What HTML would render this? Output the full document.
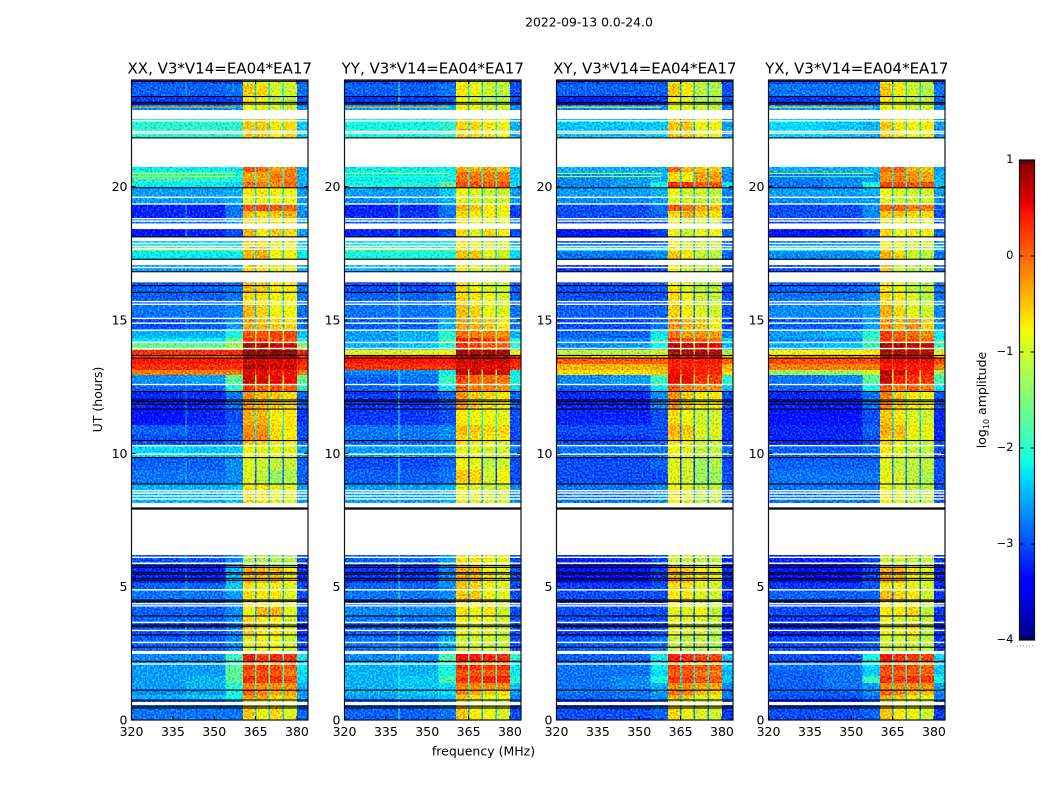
<!DOCTYPE html>
<html lang="en">
<head>
<meta charset="utf-8">
<title>2022-09-13 0.0-24.0</title>
<style>
html,body{margin:0;padding:0;background:#fff;width:1050px;height:800px;overflow:hidden}
svg{display:block}
text{font-family:"DejaVu Sans","Liberation Sans",sans-serif;fill:#000}
</style>
</head>
<body>
<svg id="figure" xmlns="http://www.w3.org/2000/svg" width="1050" height="800" viewBox="0 0 1050 800">
<defs>
<filter id="grain0" x="0" y="0" width="1" height="1" color-interpolation-filters="sRGB"><feTurbulence type="fractalNoise" baseFrequency="0.55" numOctaves="1" seed="3" result="n"/><feColorMatrix in="n" type="matrix" values="0.3 0 0 0 0.35  1.2 0 0 0 -0.1  0.2 0 0 0 0.4  0 0 0 0 1" result="m"/><feComposite in="SourceGraphic" in2="m" operator="arithmetic" k1="0" k2="1" k3="1" k4="-0.5" result="c"/><feComposite in="c" in2="SourceAlpha" operator="in"/></filter>
<filter id="grain1" x="0" y="0" width="1" height="1" color-interpolation-filters="sRGB"><feTurbulence type="fractalNoise" baseFrequency="0.55" numOctaves="1" seed="11" result="n"/><feColorMatrix in="n" type="matrix" values="0.3 0 0 0 0.35  1.2 0 0 0 -0.1  0.2 0 0 0 0.4  0 0 0 0 1" result="m"/><feComposite in="SourceGraphic" in2="m" operator="arithmetic" k1="0" k2="1" k3="1" k4="-0.5" result="c"/><feComposite in="c" in2="SourceAlpha" operator="in"/></filter>
<filter id="grain2" x="0" y="0" width="1" height="1" color-interpolation-filters="sRGB"><feTurbulence type="fractalNoise" baseFrequency="0.55" numOctaves="1" seed="23" result="n"/><feColorMatrix in="n" type="matrix" values="0.3 0 0 0 0.35  1.2 0 0 0 -0.1  0.2 0 0 0 0.4  0 0 0 0 1" result="m"/><feComposite in="SourceGraphic" in2="m" operator="arithmetic" k1="0" k2="1" k3="1" k4="-0.5" result="c"/><feComposite in="c" in2="SourceAlpha" operator="in"/></filter>
<filter id="grain3" x="0" y="0" width="1" height="1" color-interpolation-filters="sRGB"><feTurbulence type="fractalNoise" baseFrequency="0.55" numOctaves="1" seed="37" result="n"/><feColorMatrix in="n" type="matrix" values="0.3 0 0 0 0.35  1.2 0 0 0 -0.1  0.2 0 0 0 0.4  0 0 0 0 1" result="m"/><feComposite in="SourceGraphic" in2="m" operator="arithmetic" k1="0" k2="1" k3="1" k4="-0.5" result="c"/><feComposite in="c" in2="SourceAlpha" operator="in"/></filter>
</defs>
<text x="589" y="26.5" font-size="12.4" text-anchor="middle">2022-09-13 0.0-24.0</text>
<text x="483.5" y="755.5" font-size="12.5" text-anchor="middle">frequency (MHz)</text>
<text transform="translate(102,399.5) rotate(-90)" font-size="12.5" text-anchor="middle">UT (hours)</text>
<text transform="translate(986,400) rotate(-90)" font-size="12.5" text-anchor="middle">log<tspan font-size="8" dy="3">10</tspan><tspan dy="-3"> amplitude</tspan></text>
</svg>
<script>
const panelTitles = ["XX, V3*V14=EA04*EA17","YY, V3*V14=EA04*EA17","XY, V3*V14=EA04*EA17","YX, V3*V14=EA04*EA17"];
const xTicks = [320,335,350,365,380];
const yTicks = [0,5,10,15,20];
const cbarTicks = [1,0,-1,-2,-3,-4];
const freqEdges = [320,340,354,360.4,365,370,375,380,384];
const gapFreqs = [365,370,375];
const rowEdgesUT = [24.00,23.85,23.40,23.06,22.88,22.54,21.83,20.74,20.55,20.18,
19.95,19.61,19.35,19.09,18.83,18.41,18.11,17.78,17.59,17.25,
16.80,16.43,16.01,15.56,15.04,14.63,14.33,14.14,13.88,13.69,
13.58,13.35,13.13,12.94,12.60,12.30,11.66,11.06,10.69,10.46,
10.28,9.83,9.38,8.85,8.10,7.95,6.19,5.78,5.14,4.88,
4.50,4.24,3.90,3.60,3.11,2.59,2.48,2.21,2.06,1.88,
1.65,1.39,1.13,0.94,0.75,0.56,0.00];
const whiteThinUT = [22.47,22.07,22.00,19.60,19.35,18.80,18.71,17.87,17.76,17.66,16.97,16.44,15.69,15.59,15.06,14.88,14.62,14.16,13.93,12.58,10.29,9.97,8.60,8.51,8.40,8.29,6.10,5.88,4.88,4.36,4.28,3.66,3.36,2.91,2.10];
const whiteStartUT = [18.62,18.09,17.25,8.14,2.59,0.675];
const whiteEndUT = [18.41,17.96,17.06,7.97,2.50,0.56];
const blackFlagUT = [23.95,23.38,23.16,23.10,21.83,19.96,18.12,17.28,16.81,16.29,16.04,13.67,13.57,12.32,12.00,11.94,11.84,11.66,10.48,9.84,8.85,7.93,5.79,5.72,5.53,5.47,5.31,5.24,4.50,4.45,3.90,3.56,3.50,3.19,2.73,2.20,1.12,0.75,0.52,0.45];
const hotLineUT = [22.98,20.50,20.38,17.68];
const hotLineXX = [-0.3,-1.0,-1.2,-1.0];
const hotLineYY = [-0.4,-1.1,-2.0,-1.1];
const hotLineXY = [-0.7,-1.1,-1.3,-1.4];
const hotLineYX = [-0.6,-0.9,-2.0,-1.1];
const spurPanel = [1,0];
const spurFreq = [339.7,339.7];
const spurLevel = [-1.9,-2.5];
const xxLevels = [
[-3,-3,-3,-1,-.9,-1,-1,-3,-2],
[-2.9,-2.9,-2.8,-.5,-.6,-1,-1,-2.8,-2.2],
[-3.1,-3.1,-3,-.7,-.8,-1.1,-1.1,-3,-2.3],
[-2.7,-2.7,-2.6,-.8,-.8,-1,-1,-2.7,-2.3],
null,
[-2,-2,-2,-.5,-.5,-.7,-.6,-2.4,-2.1],
null,
[-2.2,-2.2,-2.2,.1,0,-.3,-.2,-2.6,-2],
[-1.9,-2,-2.1,-.3,-.3,-.1,-.1,-2.5,-1.9],
[-2.2,-2.2,-2.3,0,-.1,-.2,0,-2.5,-2.1],
[-2.6,-2.6,-2.5,-.7,-.7,-.8,-.8,-2.6,-2.3],
[-2.6,-2.6,-2.5,-.8,-.8,-.8,-.8,-2.6,-2.3],
[-3.2,-3.2,-2.8,.1,.2,.1,0,-2.6,-2.3],
[-3.2,-3.2,-2.8,-.5,-.6,-.5,-.4,-2.7,-2.3],
[-2.8,-2.8,-2.6,-.6,-.7,-.7,-.7,-2.6,-2.3],
[-3.3,-3.2,-3,-.4,-.7,-.5,-.6,-2.6,-2.3],
[-2.3,-2.3,-2.3,-.6,-.7,-.9,-.9,-2.4,-2.3],
[-1.6,-1.7,-1.7,-.4,-.4,-.7,-.8,-2.2,-2.2],
[-2.2,-2.2,-2.2,-.4,-.4,-.8,-.8,-2.2,-2.3],
[-2.6,-2.6,-2.5,-.5,-.7,-.8,-.8,-2.5,-2.3],
null,
[-2.9,-2.9,-2.8,-.4,-.5,-.7,-.7,-2.8,-2.4],
[-2.9,-2.9,-2.8,-.6,-.7,-.8,-.8,-2.8,-2.5],
[-2.8,-2.8,-2.7,-.4,-.6,-.8,-.8,-2.8,-2.4],
[-3,-2.9,-2.6,-.3,-.4,-.5,-.6,-2.8,-2.3],
[-2.5,-2.5,-2.1,.1,.1,.2,.2,-2.4,-1.3],
[-2.2,-2.2,-1.6,.3,.3,.2,.1,-2,-1],
[-1.6,-1.6,-1.3,.85,.8,.7,.65,-1.4,-.6],
[.3,.3,.35,.95,.95,.95,.95,.4,.6],
[.1,.1,.15,.85,.8,.75,.75,.1,.5],
[.45,.45,.4,.7,.65,.6,.6,.4,.5],
[.3,.3,.3,.8,.75,.7,.7,.3,.5],
[-.1,-.1,-.1,.6,.55,.5,.5,-.1,.2],
[-2.7,-2.6,-1.7,.7,.65,.6,.5,-1.6,-.8],
[-2.9,-2.9,-2,.25,.1,.15,.1,-2,-1.1],
[-3.2,-3.2,-2.8,-.2,-.4,-.5,-.6,-2.9,-1.7],
[-3.3,-3.2,-3,-.35,-.4,-.7,-.7,-3.1,-2],
[-2.9,-3,-2.9,-.2,-.2,-.6,-.7,-3,-2.1],
[-3,-3,-2.9,-.1,-.15,-.6,-.7,-3,-2.2],
[-3,-3,-2.8,-.5,-.6,-.8,-.8,-2.8,-2.4],
[-2.3,-2.4,-2.4,-.8,-.85,-.9,-.9,-2.6,-2.4],
[-2.9,-2.9,-2.7,-.9,-1,-1.1,-1.05,-2.9,-2.8],
[-2.8,-2.8,-2.7,-.95,-1.1,-1.3,-1.2,-2.9,-2.9],
[-2.5,-2.5,-2.4,-.6,-.7,-.9,-.9,-2.6,-2.4],
[-2.8,-2.8,-2.8,-.6,-.7,-.9,-.9,-2.8,-2.5],
null,
[-3,-3,-2.7,-1.2,-1.2,-1.2,-1.2,-3,-2.7],
[-3.2,-3.2,-2.5,-.35,-.4,-.45,-.7,-3.1,-2.5],
[-2.9,-2.9,-2.4,-.7,-.8,-.8,-.9,-3,-2.5],
[-2.8,-2.8,-2.6,-.6,-.7,-.7,-.9,-3,-2.5],
[-3,-3,-2.8,-.5,-.7,-.7,-.9,-3,-2.5],
[-2.9,-2.9,-2.7,-.8,-.4,-.4,-.9,-3,-2.5],
[-2.9,-2.9,-2.7,-.6,-.7,-.7,-1,-3,-2.5],
[-3,-3,-2.8,-.5,-.7,-.7,-.9,-3.2,-2.6],
[-2.9,-2.9,-2.7,-.9,-.8,-.8,-1,-3,-2.6],
null,
[-2.7,-2.7,-1.9,.45,.25,.3,.3,-2.2,-1.9],
[-2.7,-2.7,-2,-.1,-.2,-.2,-.1,-2.4,-1.9],
[-2.6,-2.6,-1.7,.25,.25,.2,.1,-2.2,-1.7],
[-2.6,-2.6,-1.7,.1,.15,.1,-.1,-2.3,-1.8],
[-2.6,-2.5,-1.7,.3,.25,.3,.15,-2.3,-1.7],
[-2.6,-2.5,-2,-.1,-.2,-.2,-.2,-2.5,-1.9],
[-2.7,-2.6,-2.1,.1,-.1,-.3,-.3,-2.6,-2],
[-2.5,-2.4,-2.1,-.3,-.3,-.6,-.5,-2.6,-2],
[-3,-3,-2.8,-.6,-.7,-.8,-.8,-2.8,-2.3],
[-2.8,-2.8,-2.8,-.5,-.8,-.6,-.9,-2.9,-2.4]
];
const yyLevels = [
[-3,-3,-3,-.8,-1,-1,-1,-3,-2.5],
[-2.9,-2.9,-2.8,-.7,-.8,-1,-1.1,-3,-2.3],
[-3.1,-3.1,-3,-.8,-.9,-1.2,-1.2,-3,-2.3],
[-2.6,-2.6,-2.5,-.8,-.8,-1,-1,-2.7,-2.4],
null,
[-2.1,-2.1,-2,-.6,-.6,-.7,-.8,-2.5,-2.2],
null,
[-2.2,-2.2,-2.2,-.3,-.4,-.3,-.5,-2.4,-2.1],
[-2.2,-2.2,-2.1,-.05,-.05,-.1,-.1,-2.4,-2],
[-2.1,-2.1,-1.7,.15,.15,.1,.1,-2.3,-1.9],
[-2.6,-2.6,-2.4,-.8,-.9,-1,-1,-2.6,-2.4],
[-2.7,-2.6,-2.5,-.9,-1,-1,-1,-2.6,-2.4],
[-3.2,-3.2,-2.8,-.4,-.5,-.7,-.8,-3,-2.5],
[-3.2,-3.1,-2.8,-.6,-.7,-.7,-.8,-3.1,-2.5],
[-2.9,-2.9,-2.7,-.7,-.9,-.8,-.9,-2.8,-2.5],
[-3.2,-3.2,-3,-.6,-.9,-.6,-.8,-3,-2.5],
[-2.2,-2.2,-2.2,-.7,-.9,-1,-1,-2.5,-2.4],
[-1.7,-1.8,-1.8,-.7,-.8,-.9,-1,-2.2,-2.3],
[-2.1,-2.1,-2.1,-.5,-.5,-.9,-1,-2.3,-2.4],
[-2.5,-2.5,-2.4,-.7,-.9,-1,-1,-2.5,-2.4],
null,
[-3,-3,-2.9,-.6,-.8,-.9,-1,-2.9,-2.5],
[-2.9,-2.9,-2.8,-.6,-.7,-.8,-1,-2.9,-2.5],
[-2.8,-2.8,-2.7,-.45,-.6,-.8,-.9,-2.8,-2.5],
[-2.9,-2.9,-2.5,-.3,-.4,-.5,-.7,-2.8,-2.4],
[-2.6,-2.5,-2,0,-.1,-.1,-.2,-2.5,-1.5],
[-2.6,-2.5,-1.8,.45,.4,.3,.1,-2.1,-1.3],
[-2.5,-2.4,-2,.3,.2,.1,.05,-2,-1.2],
[-.9,-.9,-.8,.85,.85,.85,.85,-.9,.2],
[.4,.4,.4,.8,.75,.75,.75,.4,.5],
[.45,.45,.45,.7,.7,.7,.7,.4,.5],
[.3,.3,.3,.6,.65,.6,.6,.3,.4],
[-2.7,-2.7,-2.2,.75,.7,.65,.65,-2.2,-1],
[-2.9,-2.8,-1.9,.2,0,0,-.05,-2.1,-1.5],
[-2.9,-2.9,-2.2,.1,-.1,-.1,-.2,-2.3,-1.8],
[-3.1,-3.1,-2.9,-.2,-.5,-.6,-.7,-2.9,-1.9],
[-3.1,-3.1,-3,-.7,-.8,-.8,-.9,-3,-2.1],
[-2.8,-2.8,-2.7,-.45,-.5,-.6,-.6,-3,-2.2],
[-2.8,-2.8,-2.7,-.6,-.6,-.7,-.7,-3,-2.3],
[-2.9,-2.9,-2.8,-.6,-.8,-.8,-.9,-2.9,-2.5],
[-2.6,-2.6,-2.6,-.9,-.9,-1,-1,-2.8,-2.5],
[-3,-3,-2.9,-.8,-.85,-1.1,-1,-3,-3],
[-2.9,-2.9,-2.8,-.5,-.6,-1,-.8,-3,-3],
[-2.6,-2.6,-2.5,-.8,-.9,-1,-1,-2.7,-2.5],
[-2.8,-2.8,-2.8,-.7,-.9,-1,-1,-2.8,-2.5],
null,
[-2.9,-2.9,-2.6,-.7,-.7,-.8,-.85,-3,-2.5],
[-3.1,-3.1,-2.7,-.35,-.4,-.7,-.9,-3,-2.5],
[-2.9,-2.9,-2.7,-.5,-.6,-.8,-.9,-3,-2.5],
[-2.8,-2.8,-2.7,-.5,-.5,-.8,-.9,-3,-2.5],
[-3,-3,-2.9,-.7,-.8,-.9,-1,-3,-2.6],
[-2.7,-2.7,-2.7,-.7,-.8,-.7,-1,-3,-2.6],
[-2.8,-2.8,-2.7,-.8,-.8,-.8,-1,-3,-2.6],
[-2.9,-2.9,-2.7,-.85,-.9,-.9,-1,-3,-2.6],
[-2.8,-2.8,-2.5,-1,-1,-1,-1.05,-3,-2.7],
null,
[-2.7,-2.7,-1.8,.5,.45,.35,.3,-2,-1.9],
[-2.6,-2.6,-2,0,-.1,-.1,-.1,-2.3,-2],
[-2.5,-2.5,-2.1,.3,.3,.2,.3,-2.2,-1.8],
[-2.5,-2.5,-2.1,.1,.1,.05,.1,-2.2,-1.9],
[-2.5,-2.4,-1.8,.3,.3,.4,.35,-2,-1.8],
[-2.5,-2.4,-2.3,-.15,-.2,-.2,-.2,-2.4,-2],
[-2.5,-2.4,-2.3,-.1,-.3,-.5,-.6,-2.6,-2.2],
[-2.6,-2.5,-2.4,-.5,-.7,-.8,-.8,-2.7,-2.3],
[-3,-3,-2.8,-.6,-.8,-.9,-.9,-2.9,-2.5],
[-2.9,-2.9,-2.8,-.5,-.75,-.8,-.95,-3,-2.5]
];
const xyLevels = [
[-3,-3,-3,-1,-1,-1.1,-1.2,-3,-2.7],
[-2.9,-2.9,-2.9,-.5,-.7,-1.1,-1.2,-3,-2.5],
[-3.2,-3.2,-3.1,-.8,-.9,-1.2,-1.2,-3,-2.7],
[-2.7,-2.7,-2.7,-.9,-.9,-1,-1.1,-2.8,-2.6],
null,
[-2.4,-2.4,-2.4,-.5,-.5,-.8,-.8,-2.6,-2.5],
null,
[-2.5,-2.5,-2.5,.05,-.4,-.5,-.5,-2.6,-2.4],
[-2.7,-2.6,-2.5,-.6,-.7,-.3,-.3,-2.7,-2.4],
[-2.7,-2.6,-2.1,.3,.3,.1,.1,-2.2,-2.2],
[-2.6,-2.6,-2.5,-.8,-1,-1,-1.1,-2.7,-2.5],
[-2.7,-2.7,-2.6,-.9,-1,-1.1,-1.1,-2.7,-2.5],
[-3,-3,-2.8,.1,-.1,-.3,-.4,-2.9,-2.7],
[-3,-3,-2.9,-.6,-.4,-.6,-.7,-3,-2.7],
[-3,-3,-2.9,-.8,-1,-1,-1.1,-2.9,-2.7],
[-3.3,-3.3,-3.1,-.8,-1,-.8,-.8,-2.9,-2.7],
[-2.9,-2.9,-2.9,-.8,-1,-1,-1.1,-2.9,-2.6],
[-2.2,-2.3,-2.3,-.8,-.9,-1.1,-1.1,-2.6,-2.5],
[-2.8,-2.8,-2.7,-.5,-.7,-1,-1.1,-2.9,-2.5],
[-3.1,-3.1,-3,-.8,-1,-1.1,-1.1,-3,-2.6],
null,
[-3,-3,-2.9,-.7,-.9,-1.1,-1.1,-3,-2.7],
[-3,-3,-3,-.6,-.8,-1,-1.1,-3,-2.8],
[-2.9,-2.9,-2.9,-.55,-.75,-.9,-1,-3,-2.8],
[-3,-3,-2.8,-.2,-.4,-.5,-.8,-3,-2.6],
[-2.9,-2.9,-2.2,-.05,-.3,-.2,-.3,-2.7,-2.1],
[-2.7,-2.7,-1.9,.3,.2,.1,0,-2.3,-1.5],
[-2.7,-2.6,-2.1,.8,.75,.65,.55,-2.4,-.8],
[-1.1,-1.1,-1,.85,.8,.8,.75,-1.2,-.3],
[-.4,-.4,-.4,.7,.65,.6,.6,-.4,.1],
[.05,.05,.05,.45,.45,.45,.45,.05,.2],
[-.4,-.4,-.35,.4,.4,.4,.35,-.4,.1],
[-.6,-.6,-.5,.5,.5,.4,.35,-.6,0],
[-2.7,-2.6,-1.9,.55,.55,.3,.2,-2,-1.1],
[-2.9,-2.9,-2.2,.1,-.1,-.2,-.2,-2.4,-2.1],
[-3.2,-3.2,-2.7,-.2,-.5,-.7,-.7,-3,-2.5],
[-3.2,-3.2,-3,-.6,-.8,-1,-1,-3.1,-2.6],
[-3,-3,-3,-.4,-.5,-.9,-.9,-3.1,-2.7],
[-3.1,-3.1,-3,-.5,-.6,-1,-1,-3.1,-2.7],
[-3,-3,-2.9,-.7,-.8,-1,-1,-3,-2.7],
[-2.8,-2.8,-2.8,-.8,-.9,-1.1,-1.1,-2.9,-2.8],
[-3,-3,-2.9,-.9,-1,-1.3,-1.2,-3,-3.1],
[-3,-3,-3,-.9,-1,-1.3,-1.3,-3,-3.1],
[-2.8,-2.8,-2.7,-.8,-.9,-1.1,-1.1,-2.9,-2.8],
[-3,-3,-3,-.8,-.9,-1.1,-1.1,-3,-2.8],
null,
[-3.2,-3.2,-3,-1,-1.05,-1.1,-1.1,-3.2,-2.9],
[-3.3,-3.3,-3.1,-.4,-.5,-.7,-.8,-3.2,-2.8],
[-3.1,-3.1,-3,-.6,-.7,-.9,-1,-3.2,-2.9],
[-3,-3,-3,-.7,-.7,-.9,-1,-3.2,-2.9],
[-3.1,-3.1,-3.1,-.8,-.9,-1,-1.1,-3.2,-2.9],
[-3,-3,-3,-.9,-.9,-.8,-1.1,-3.2,-2.9],
[-3,-3,-3,-.9,-.9,-.9,-1.1,-3.2,-2.9],
[-3.1,-3.1,-3,-.9,-1,-1,-1.2,-3.2,-2.9],
[-2.9,-2.9,-2.8,-1.1,-1.1,-1.1,-1.2,-3.2,-3],
null,
[-2.9,-2.9,-2.2,.4,.3,.2,.2,-2.4,-2.2],
[-2.9,-2.9,-2.4,-.2,-.2,-.3,-.3,-2.6,-2.3],
[-2.8,-2.8,-2.2,.2,.15,.1,.05,-2.4,-2.2],
[-2.8,-2.8,-2.3,.05,.05,-.05,-.1,-2.5,-2.2],
[-2.8,-2.7,-2.1,.25,.2,.1,.1,-2.4,-2.2],
[-2.8,-2.7,-2.5,-.2,-.2,-.3,-.3,-2.7,-2.3],
[-2.8,-2.8,-2.6,0,-.1,-.4,-.5,-2.8,-2.4],
[-2.9,-2.8,-2.7,-.4,-.5,-.8,-.8,-2.8,-2.5],
[-3.1,-3.1,-3,-.8,-.9,-1,-1,-3,-2.7],
[-3,-3,-2.9,-.6,-.8,-.9,-1,-3.1,-2.7]
];
const yxLevels = [
[-3,-3,-3,-.9,-1,-1,-1.1,-3,-2.5],
[-2.8,-2.8,-2.8,-.5,-.7,-1,-1.15,-2.8,-2.3],
[-3.1,-3.1,-3,-.7,-.9,-1.1,-1.1,-2.9,-2.4],
[-2.6,-2.6,-2.6,-.8,-.8,-1,-1,-2.7,-2.4],
null,
[-2.3,-2.4,-2.5,-.5,-.7,-.8,-.7,-2.6,-2.3],
null,
[-2.5,-2.5,-2.4,0,0,-.4,-.5,-2.6,-2.2],
[-2.8,-2.7,-2.6,-.2,-.1,-.2,-.3,-2.5,-2.1],
[-2.8,-2.7,-2.1,.2,.15,.1,.15,-2.4,-2],
[-2.6,-2.6,-2.5,-.8,-.9,-1,-1,-2.6,-2.4],
[-2.7,-2.6,-2.6,-.9,-1,-1,-1,-2.7,-2.4],
[-3,-3,-2.7,0,.05,-.1,-.1,-2.9,-2.5],
[-3,-3,-2.7,-.5,-.5,-.6,-.6,-3,-2.5],
[-3,-3,-2.9,-.7,-.8,-.9,-.9,-2.9,-2.5],
[-3.3,-3.3,-3,-.6,-.8,-.7,-.8,-2.9,-2.5],
[-2.7,-2.7,-2.7,-.7,-.9,-1,-1,-2.7,-2.4],
[-2.1,-2.2,-2.2,-.6,-.8,-1,-1.1,-2.5,-2.4],
[-2.7,-2.7,-2.6,-.4,-.6,-1,-1.15,-2.8,-2.5],
[-3,-3,-3,-.5,-.9,-1.1,-1.1,-2.9,-2.5],
null,
[-2.9,-2.9,-2.8,-.7,-.8,-1.05,-1.1,-2.8,-2.5],
[-2.8,-2.8,-2.7,-.6,-.7,-.9,-1.1,-2.8,-2.5],
[-2.7,-2.7,-2.6,-.4,-.6,-.85,-1,-2.7,-2.5],
[-2.9,-2.9,-2.6,-.2,-.4,-.2,-.55,-2.6,-2.4],
[-2.6,-2.5,-2,.2,.05,0,-.2,-2.2,-1.8],
[-2.7,-2.7,-1.8,.35,.2,.15,0,-2,-1.3],
[-2.5,-2.4,-1.9,.85,.8,.75,.7,-1.8,-.6],
[-.8,-.8,-.7,.85,.8,.8,.75,-.9,.1],
[-.2,-.2,-.2,.75,.7,.65,.65,-.2,.2],
[.15,.15,.15,.55,.55,.55,.55,.15,.2],
[-.1,-.1,-.1,.45,.45,.45,.45,-.1,.1],
[-1.3,-1.3,-1,.75,.65,.5,.4,-1.3,-.7],
[-2.8,-2.7,-1.7,.7,.4,.3,.25,-1.8,-1],
[-2.9,-2.9,-2.1,.1,-.1,.1,-.1,-2.2,-1.5],
[-3.2,-3.2,-2.8,-.1,-.5,-.7,-.8,-3,-2.1],
[-3.3,-3.3,-3,-.5,-.65,-.9,-1,-3.2,-2.3],
[-3.2,-3.2,-2.9,-.35,-.45,-.75,-.85,-3.2,-2.4],
[-3.2,-3.2,-3,-.5,-.5,-.9,-.9,-3.2,-2.4],
[-3.2,-3.2,-3,-.5,-.8,-1,-1,-3,-2.5],
[-2.9,-2.9,-2.8,-.7,-.9,-1.05,-1.1,-3,-2.5],
[-2.9,-2.9,-2.9,-.9,-1.05,-1.1,-1.1,-3,-2.8],
[-2.8,-2.8,-2.8,-.85,-1,-1.1,-1.2,-3,-2.8],
[-2.8,-2.8,-2.8,-.8,-.95,-1.1,-1.1,-3,-2.5],
[-3,-3,-3,-.8,-.95,-1.1,-1.1,-3,-2.5],
null,
[-3.2,-3.2,-3,-1,-1,-1.05,-1.1,-3.1,-2.7],
[-3.3,-3.3,-3,-.35,-.4,-.7,-.9,-3.2,-2.7],
[-3.1,-3.1,-3,-.7,-.75,-.85,-1,-3.2,-2.8],
[-2.9,-2.9,-2.9,-.45,-.6,-.7,-1,-3.1,-2.8],
[-3.1,-3.1,-3,-.7,-.8,-.9,-1.05,-3.1,-2.8],
[-3,-3,-3,-.7,-.7,-.6,-1.1,-3.1,-2.8],
[-3.1,-3.1,-3,-.85,-.9,-.9,-1.1,-3.2,-2.8],
[-3.2,-3.2,-3.1,-.8,-.9,-.7,-1.1,-3.2,-2.8],
[-3,-3,-2.9,-1,-1,-1,-1.1,-3.1,-2.8],
null,
[-3,-3,-2.1,.5,.3,.25,.2,-2.3,-2.1],
[-3,-3,-2.3,-.15,-.2,-.2,-.15,-2.5,-2.2],
[-2.8,-2.8,-2.3,.2,.2,.15,.05,-2.4,-2.1],
[-2.9,-2.8,-2.4,.1,.05,.05,0,-2.4,-2.1],
[-2.9,-2.8,-1.9,.3,.25,.35,.25,-2.1,-2],
[-2.9,-2.8,-2.6,-.15,-.2,-.2,-.2,-2.6,-2.3],
[-2.9,-2.9,-2.7,.05,-.1,-.35,-.4,-2.7,-2.4],
[-3,-3,-2.8,-.4,-.5,-.7,-.8,-2.8,-2.4],
[-3.2,-3.2,-3,-.8,-.8,-1,-1,-3,-2.6],
[-3,-3,-2.9,-.5,-.7,-.8,-1,-3.1,-2.6]
];

const NS = "http://www.w3.org/2000/svg";
const svg = document.getElementById("figure");
const panelLeft = [131.5,344.5,556.5,768.5];
const panelWidth = 176.5, panelTop = 80, panelBottom = 720;
const freqMin = 320, freqMax = 384, utMin = 0, utMax = 24, levelMin = -4, levelMax = 1;
const cbarLeft = 1019.5, cbarRight = 1034.5, cbarTop = 160, cbarBottom = 640;
const panelLevels = [xxLevels,yyLevels,xyLevels,yxLevels];
const panelHot = [hotLineXX,hotLineYY,hotLineXY,hotLineYX];

function xScale(p,f){return panelLeft[p]+(f-freqMin)/(freqMax-freqMin)*panelWidth;}
function yScale(u){return panelBottom-(u-utMin)/(utMax-utMin)*(panelBottom-panelTop);}
function cbarScale(l){return cbarBottom-(l-levelMin)/(levelMax-levelMin)*(cbarBottom-cbarTop);}
function ramp(t,a,b,c,d){ // trapezoid used by the jet colormap
  if(t<=a||t>=d) return 0; if(t<b) return (t-a)/(b-a); if(t<=c) return 1; return (d-t)/(d-c);
}
function jet(l){
  const t=Math.max(0,Math.min(1,(l-levelMin)/(levelMax-levelMin)));
  const r=t>=0.89?1-(t-0.89)/0.11*0.5:ramp(t,0.35,0.66,0.89,2);
  const g=ramp(t,0.125,0.375,0.64,0.91);
  const b=t<=0.11?0.5+t/0.11*0.5:ramp(t,-1,0.11,0.34,0.65);
  return "rgb("+Math.round(r*255)+","+Math.round(g*255)+","+Math.round(b*255)+")";
}
function mk(tag,attrs,parent){
  const e=document.createElementNS(NS,tag);
  for(const k in attrs) e.setAttribute(k,attrs[k]);
  (parent||svg).appendChild(e);
  return e;
}
function cell(g,x0,x1,y0,y1,fill){
  const r=mk("rect",{x:x0.toFixed(2),y:y0.toFixed(2),width:Math.max(0,x1-x0).toFixed(2),height:Math.max(0,y1-y0).toFixed(2),fill:fill,"shape-rendering":"crispEdges"},g);
  
  
  return r;
}

panelTitles.forEach(function(title,p){
  const levels=panelLevels[p];
  const panel=mk("g",{});
  
  

  const heat=mk("g",{filter:"url(#grain"+p+")"},panel);
  
  
  levels.forEach(function(row,i){
    if(!row) return;
    const y0=yScale(rowEdgesUT[i]), y1=yScale(rowEdgesUT[i+1]);
    for(let c=0;c<freqEdges.length-1;c++){
      cell(heat,xScale(p,freqEdges[c]),xScale(p,freqEdges[c+1]),y0,y1,jet(row[c]));
    }
    gapFreqs.forEach(function(f){
      cell(heat,xScale(p,f-0.3),xScale(p,f+0.3),y0,y1,jet(row[8]));
    });
    spurPanel.forEach(function(sp,s){
      if(sp===p) cell(heat,xScale(p,spurFreq[s]-0.2),xScale(p,spurFreq[s]+0.2),y0,y1,jet(Math.max(spurLevel[s],row[0])));
    });
  });
  hotLineUT.forEach(function(u,h){
    const l=mk("rect",{x:xScale(p,320).toFixed(2),y:(yScale(u)-0.6).toFixed(2),width:(xScale(p,358)-xScale(p,320)).toFixed(2),height:"1.2",fill:jet(panelHot[p][h])},panel);
    
    
  });
  whiteThinUT.forEach(function(u){
    const l=mk("rect",{x:panelLeft[p],y:(yScale(u)-0.7).toFixed(2),width:panelWidth,height:"1.4",fill:"#fff"},panel);
    
    
  });
  whiteStartUT.forEach(function(u,k){
    const l=mk("rect",{x:panelLeft[p],y:yScale(u).toFixed(2),width:panelWidth,height:(yScale(whiteEndUT[k])-yScale(u)).toFixed(2),fill:"#fff"},panel);
    
    
  });
  blackFlagUT.forEach(function(u){
    const thick=u===7.93;
    const l=mk("rect",{x:panelLeft[p],y:(yScale(u)-(thick?1.1:0.55)).toFixed(2),width:panelWidth,height:thick?"2.2":"1.1",fill:"#000"},panel);
    
    
  });

  const frame=mk("rect",{x:panelLeft[p],y:panelTop,width:panelWidth,height:panelBottom-panelTop,fill:"none",stroke:"#111","stroke-width":"1.2"},panel);
  
  

  xTicks.forEach(function(t){
    const x=xScale(p,t);
    const a=mk("line",{x1:x,x2:x,y1:panelBottom,y2:panelBottom-4,stroke:"#000","stroke-width":"1"},panel);
    
    
    const b=mk("line",{x1:x,x2:x,y1:panelTop,y2:panelTop+4,stroke:"#000","stroke-width":"1"},panel);
    
    
    const lab=mk("text",{x:x,y:736,"font-size":"12.5","text-anchor":"middle"},panel);
    
    
    lab.textContent=t;
  });
  yTicks.forEach(function(t){
    const y=yScale(t);
    const a=mk("line",{x1:panelLeft[p],x2:panelLeft[p]+4,y1:y,y2:y,stroke:"#000","stroke-width":"1"},panel);
    
    
    const b=mk("line",{x1:panelLeft[p]+panelWidth,x2:panelLeft[p]+panelWidth-4,y1:y,y2:y,stroke:"#000","stroke-width":"1"},panel);
    
    
    const lab=mk("text",{x:panelLeft[p]-4,y:y+4.5,"font-size":"12.5","text-anchor":"end"},panel);
    
    
    lab.textContent=t;
  });
  const tt=mk("text",{x:panelLeft[p]+panelWidth/2,y:73.5,"font-size":"15","text-anchor":"middle"},panel);
  
  
  tt.textContent=title;
});

const cbar=mk("g",{});


const cbarSteps=240;
for(let i=0;i<cbarSteps;i++){
  const a=levelMin+(levelMax-levelMin)*i/cbarSteps, b=levelMin+(levelMax-levelMin)*(i+1)/cbarSteps;
  const r=mk("rect",{x:cbarLeft,y:cbarScale(b).toFixed(2),width:cbarRight-cbarLeft,height:(cbarScale(a)-cbarScale(b)+0.3).toFixed(2),fill:jet((a+b)/2),"shape-rendering":"crispEdges"},cbar);
  
  
}
const cbFrame=mk("rect",{x:cbarLeft,y:cbarTop,width:cbarRight-cbarLeft,height:cbarBottom-cbarTop,fill:"none",stroke:"#111","stroke-width":"1.2"},cbar);


cbarTicks.forEach(function(t){
  const y=cbarScale(t);
  const a=mk("path",{d:"M"+cbarLeft+" "+y+"h4M"+cbarRight+" "+y+"h-4",stroke:"#000","stroke-width":"1",fill:"none"},cbar);
  
  
  const lab=mk("text",{x:1013.5,y:y+3,"font-size":"11.5","text-anchor":"end"},cbar);
  
  
  lab.textContent=t<0?"\u2212"+Math.abs(t):t;
});
const dots=mk("line",{x1:1017,x2:1035,y1:646,y2:646,stroke:"#888","stroke-width":"1","stroke-dasharray":"1 2"},cbar);


const cbMinor=mk("path",{d:"M1022 160v4M1025 160v4M1028 160v4M1031 160v4M1022 640v-4M1025 640v-4M1028 640v-4M1031 640v-4",stroke:"#000","stroke-width":"0.8",fill:"none"},cbar);


</script>
</body>
</html>
